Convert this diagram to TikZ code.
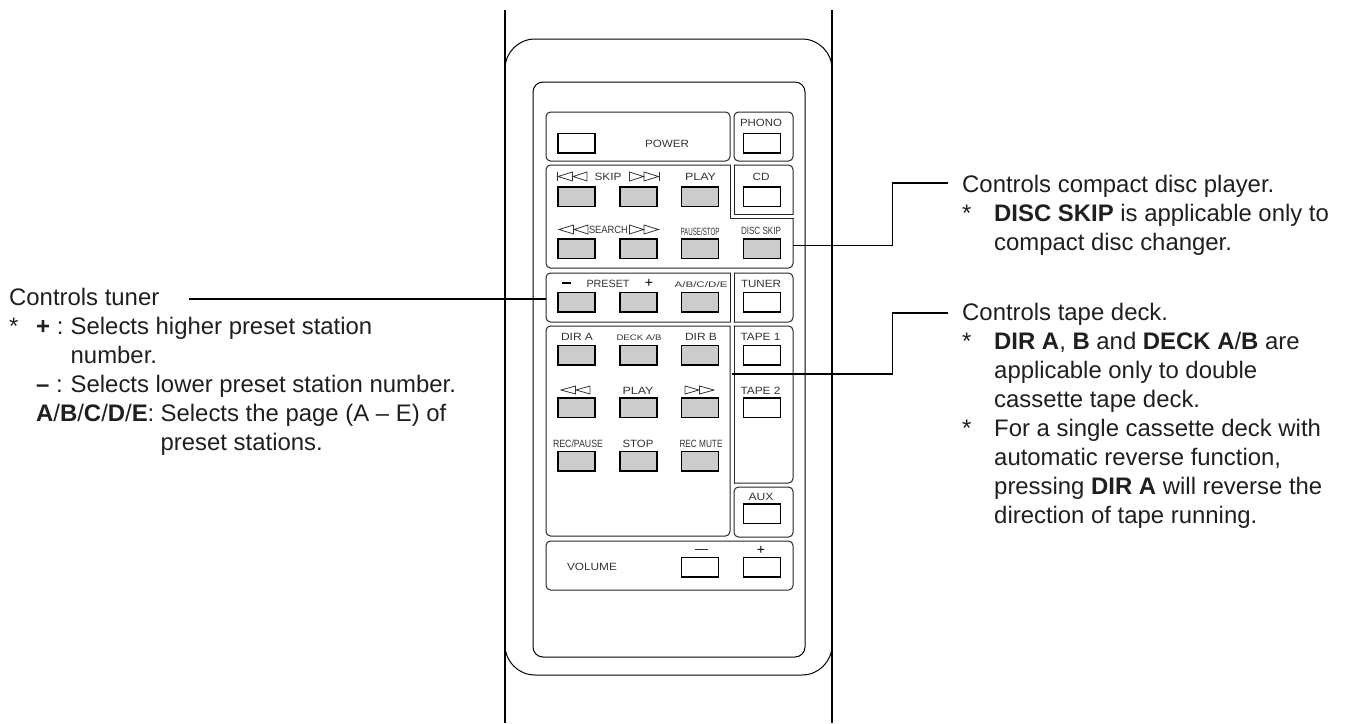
\documentclass[tikz,border=0pt]{standalone}
\usepackage{fontspec}
\setmainfont{Liberation Sans}
\newcommand{\txtsize}{\fontsize{23.9}{29}\selectfont}
\tikzset{
  btn/.style={draw=black,line width=1.3pt,rectangle,inner sep=0pt,minimum width=37pt,minimum height=19.5pt},
  grey/.style={btn,fill=black!20},
  white/.style={btn,fill=white},
  panel/.style={draw=black!85,line width=1pt,line cap=round,line join=round},
  round/.style={rounded corners=4.5pt},
  conn/.style={draw=black,line width=1.5pt,line join=miter},
  tri/.style={draw=black!80,line width=.8pt,line join=miter},
  lab/.style={inner sep=0pt,anchor=base,text=black!80},
  body/.style={inner sep=0pt,anchor=base west,text=black!88,font=\txtsize},
}
% button: name, left x, top y, style
\newcommand{\btnat}[4]{\node[#4] (#1) at ({#2+18.5},{#3+9.75}) {};}
% small label: name, centre x, centre y, width, text
\newcommand{\lab}[5]{\node[lab] (#1) at (#2,{#3+3.7}) {\resizebox{#4pt}{\height}{\fontsize{10.5}{10.5}\selectfont #5}};}
% smaller label, same arguments
\newcommand{\labs}[5]{\node[lab] (#1) at (#2,{#3+2.8}) {\resizebox{#4pt}{\height}{\fontsize{8}{8}\selectfont #5}};}
% left- and right-pointing double triangles: left x, mid y, half height
\newcommand{\lefttris}[3]{\draw[tri] (#1,#2) -- ({#1+14.5},{#2-#3}) -- ({#1+14.5},{#2+#3}) -- cycle ({#1+15},#2) -- ({#1+29},{#2-#3}) -- ({#1+29},{#2+#3}) -- cycle;}
\newcommand{\righttris}[3]{\draw[tri] ({#1+14},#2) -- (#1,{#2-#3}) -- (#1,{#2+#3}) -- cycle ({#1+29},#2) -- ({#1+14.5},{#2-#3}) -- ({#1+14.5},{#2+#3}) -- cycle;}
\begin{document}
\begin{tikzpicture}[x=1pt,y=-1pt]
\useasboundingbox (0,0) rectangle (1346,723);
% body of the remote
\draw[draw=black,line width=1.6pt] (505,10) -- (505,723);
\draw[draw=black,line width=2.2pt] (832,10) -- (832,723);
\draw[draw=black,line width=1pt,rounded corners=30pt] (505,39) rectangle (832,675);
\draw[draw=black,line width=1pt,rounded corners=10pt] (533,82) rectangle (805,657);
% panels
\draw[panel,round] (546,112) rectangle (730,161);
\draw[panel,round] (734,112) rectangle (793,161);
\draw[panel] (730,165) -- (730,218) -- (793,218);
\draw[panel,round] (793,218) -- (793,268) -- (546,268) -- (546,165) -- (730,165);
\draw[panel,round] (734,165) -- (793,165) -- (793,214);
\draw[panel] (793,214) -- (734,214) -- (734,165);
\draw[panel,round] (730,322) -- (546,322) -- (546,273) -- (730,273);
\draw[panel] (730,273) -- (730,322);
\coordinate (presetW) at (546,299);
\draw[panel,round] (734,273) -- (793,273) -- (793,322) -- (734,322);
\draw[panel] (734,273) -- (734,322);
\draw[panel,round] (730,326) -- (730,536) -- (546,536) -- (546,326) -- (730,326);
\draw[panel,round] (734,326) -- (793,326) -- (793,483) -- (734,483);
\draw[panel] (734,326) -- (734,483);
\draw[panel,round] (734,487) rectangle (793,537);
\draw[panel,round] (546,541) rectangle (793,590);
% buttons
\btnat{bPower}{558}{133.5}{white}
\btnat{bPhono}{743.5}{133.5}{white}
\btnat{bSkipL}{558}{187}{grey}
\btnat{bSkipR}{620}{187}{grey}
\btnat{bPlay}{681.5}{187}{grey}
\btnat{bCD}{743.5}{187}{white}
\btnat{bSrchL}{558}{239}{grey}
\btnat{bSrchR}{620}{239}{grey}
\btnat{bPause}{681.5}{239}{grey}
\btnat{bDisc}{743.5}{239}{grey}
\btnat{bPrM}{558}{292.5}{grey}
\btnat{bPrP}{620}{292.5}{grey}
\btnat{bPrPg}{681.5}{292.5}{grey}
\btnat{bTuner}{743.5}{292.5}{white}
\btnat{bDirA}{558}{345.5}{grey}
\btnat{bDeck}{620}{345.5}{grey}
\btnat{bDirB}{681.5}{345.5}{grey}
\btnat{bT1}{743.5}{345.5}{white}
\btnat{bRew}{558}{398}{grey}
\btnat{bTPlay}{620}{398}{grey}
\btnat{bFwd}{681.5}{398}{grey}
\btnat{bT2}{743.5}{398}{white}
\btnat{bRec}{558}{451.5}{grey}
\btnat{bStop}{620}{451.5}{grey}
\btnat{bMute}{681.5}{451.5}{grey}
\btnat{bAux}{743.5}{504}{white}
\btnat{bVolM}{681.5}{557.5}{white}
\btnat{bVolP}{743.5}{557.5}{white}
% labels
\lab{lPower}{667}{144}{44}{POWER}
\lab{lPhono}{761}{123}{42}{PHONO}
\lab{lSkip}{608}{177}{27}{SKIP}
\lab{lPlay}{700.5}{177}{31}{PLAY}
\lab{lCD}{761}{177}{17}{CD}
\lab{lSearch}{608.5}{229.5}{39}{SEARCH}
\lab{lPause}{700}{232}{39}{PAUSE/STOP}
\lab{lDisc}{761}{231}{40}{DISC SKIP}
\lab{lPreset}{608}{283.5}{43}{PRESET}
\labs{lPage}{701}{285}{53}{A/B/C/D/E}
\lab{lTuner}{761}{283.5}{40}{TUNER}
\lab{lDirA}{577}{337}{32}{DIR A}
\labs{lDeck}{639}{338}{45}{DECK A/B}
\lab{lDirB}{701}{337}{32}{DIR B}
\lab{lT1}{760.5}{337}{40}{TAPE 1}
\lab{lTPlay}{638}{391}{31}{PLAY}
\lab{lT2}{760.5}{391}{40}{TAPE 2}
\lab{lRec}{578}{443.5}{50}{REC/PAUSE}
\lab{lStop}{638}{444}{31}{STOP}
\lab{lMute}{701}{443.5}{43}{REC MUTE}
\lab{lAux}{761}{497}{25}{AUX}
\lab{lVol}{592}{567}{50}{VOLUME}
\node[lab,text=black,font=\fontsize{14}{14}\selectfont] (lPlus) at (649,287.5) {+};
\node[lab,text=black,font=\fontsize{14}{14}\selectfont] (lVolP) at (761,554.5) {+};
% drawn marks
\draw[draw=black,line width=1.8pt] (562,283) -- (570.5,283);
\draw[draw=black!80,line width=.8pt] (694.5,549.5) -- (707.5,549.5);
\draw[tri] (557,172) -- (557,181);
\lefttris{558}{176.5}{4.5}
\righttris{629.5}{176.5}{4.5}
\draw[tri] (659,172) -- (659,181);
\lefttris{559}{229.5}{4.5}
\righttris{629.5}{229.5}{4.5}
\lefttris{561}{390}{4}
\righttris{685}{390}{4}
% connectors
\coordinate (cdEnd) at (948,183);
\coordinate (cdBend) at (892.5,183);
\coordinate (discOut) at (793,245.5);
\draw[conn] (discOut) -- (discOut -| cdBend) -- (cdBend) -- (cdEnd);
\coordinate (tapeEnd) at (948,313);
\coordinate (tapeBend) at (892.5,313);
\coordinate (tapeOut) at (732,374);
\draw[conn] (tapeOut) -- (tapeOut -| tapeBend) -- (tapeBend) -- (tapeEnd);
\coordinate (tunerEnd) at (189,299);
\draw[conn] (tunerEnd) -- (presetW);
% left notes
\node[body] (t1) at (9,305) {Controls tuner};
\node[body] (t2a) at (9,334) {*};
\node[body] (t2b) at (36,334) {\textbf{+} :};
\node[body] (t2c) at (70.5,334) {Selects higher preset station};
\node[body] (t3) at (70.5,363) {number.};
\node[body] (t4a) at (36,392) {\textbf{–} :};
\node[body] (t4b) at (70.5,392) {Selects lower preset station number.};
\node[body] (t5a) at (36,421) {\textbf{A}/\textbf{B}/\textbf{C}/\textbf{D}/\textbf{E}:};
\node[body] (t5b) at (160.5,421) {Selects the page (A – E) of};
\node[body] (t6) at (160.5,450) {preset stations.};
% compact disc notes
\node[body] (c1) at (962,192) {Controls compact disc player.};
\node[body] (c2a) at (962,221) {*};
\node[body] (c2b) at (994,221) {\textbf{DISC SKIP} is applicable only to};
\node[body] (c3) at (994,250) {compact disc changer.};
% tape notes
\node[body] (d1) at (962,320) {Controls tape deck.};
\node[body] (d2a) at (962,349) {*};
\node[body] (d2b) at (994,349) {\textbf{DIR A}, \textbf{B} and \textbf{DECK A}/\textbf{B} are};
\node[body] (d3) at (994,378) {applicable only to double};
\node[body] (d4) at (994,407) {cassette tape deck.};
\node[body] (d5a) at (962,436) {*};
\node[body] (d5b) at (994,436) {For a single cassette deck with};
\node[body] (d6) at (994,465) {automatic reverse function,};
\node[body] (d7) at (994,494) {pressing \textbf{DIR A} will reverse the};
\node[body] (d8) at (994,523) {direction of tape running.};
\end{tikzpicture}
\end{document}
